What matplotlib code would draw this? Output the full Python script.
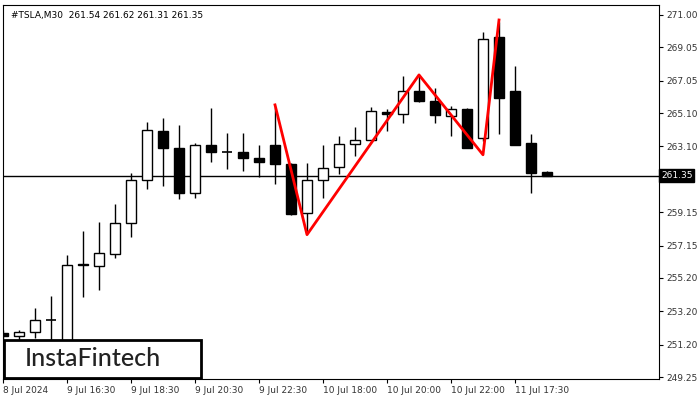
import matplotlib
matplotlib.use("Agg")
import matplotlib.pyplot as plt
from matplotlib.patches import Rectangle

opens  = [251.9,251.7,251.95,252.7,251.3,256.05,255.9,256.65,258.5,261.1,264.05,263.0,260.3,263.2,262.75,262.75,262.4,263.2,262.05,259.1,261.1,261.85,263.25,263.5,265.2,265.05,266.45,265.85,264.95,265.35,263.6,269.7,266.45,263.3,261.54]
highs  = [252.1,252.1,253.4,254.1,256.6,258.0,258.55,259.65,261.5,264.55,264.8,264.4,263.3,265.4,263.9,263.9,263.2,265.5,262.1,262.1,263.2,263.7,264.3,265.5,265.35,267.35,267.4,266.6,265.55,265.4,269.95,270.6,267.95,263.85,261.62]
lows   = [251.5,251.5,251.6,251.0,251.2,254.05,254.5,256.4,257.65,260.55,260.7,259.95,260.0,262.15,261.75,261.6,261.25,260.85,259.0,257.9,260.0,261.45,262.5,263.5,264.0,264.5,265.8,264.5,263.7,263.0,263.4,263.85,263.2,260.3,261.31]
closes = [251.7,251.95,252.7,252.7,256.0,255.95,256.7,258.5,261.1,264.1,263.0,260.3,263.2,262.75,262.75,262.4,262.15,262.05,259.05,261.1,261.8,263.25,263.5,265.25,265.05,266.45,265.85,265.0,265.35,263.0,269.55,266.0,263.2,261.5,261.35]
pattern_idx = [17, 19, 26, 30, 31]
pattern_px = [265.6, 257.8, 267.4, 262.6, 270.7]
ytick_vals = [271.00,269.05,267.05,265.10,263.10,261.15,259.15,257.15,255.20,253.20,251.20,249.25]
xtick_idx = [0,4,8,12,16,20,24,28,32]
xtick_lab = ["8 Jul 2024","9 Jul 16:30","9 Jul 18:30","9 Jul 20:30","9 Jul 22:30","10 Jul 18:00","10 Jul 20:00","10 Jul 22:00","11 Jul 17:30"]
last = 261.35

fig = plt.figure(figsize=(7,4), dpi=100)
ax = fig.add_axes([3/700, 1-379/400, 656/700, 374/400])
ax.set_xlim(0, 41)
ax.set_ylim(249.13, 271.6)
w = 0.6
for i,(o,h,l,c) in enumerate(zip(opens,highs,lows,closes)):
    top, bot = max(o,c), min(o,c)
    ax.vlines(i, l, bot, color='black', lw=1, zorder=2)
    ax.vlines(i, top, h, color='black', lw=1, zorder=2)
    if abs(c-o) < 0.05:
        ax.hlines(o, i-w/2, i+w/2, color='black', lw=1.2, zorder=3)
    else:
        ax.add_patch(Rectangle((i-w/2, bot), w, top-bot, facecolor='white' if c>o else 'black',
                               edgecolor='black', lw=1, zorder=3))
ax.axhline(last, color='black', lw=1, zorder=1)
ax.plot(pattern_idx, pattern_px, color='red', lw=2, zorder=4)

ax.yaxis.tick_right()
ax.set_yticks(ytick_vals)
ax.set_yticklabels(["" if abs(v-261.15) < 0.01 else f"{v:.2f}" for v in ytick_vals], fontsize=6.5, color='#333333')
ax.set_xticks(xtick_idx)
ax.set_xticklabels(xtick_lab, fontsize=6.5, ha='left', color='#333333')
ax.tick_params(axis='both', length=3, width=0.8, pad=2)
ax.text(1.003, (last-249.13)/(271.6-249.13), f"{last:.2f}", transform=ax.transAxes, fontsize=6.5,
        color='white', va='center', ha='left', bbox=dict(facecolor='black', edgecolor='black', pad=1.2))
ax.text(0.012, 0.985, "#TSLA,M30  261.54 261.62 261.31 261.35", transform=ax.transAxes,
        fontsize=6.5, va='top', ha='left', color='black')
# logo
fig.patches.append(Rectangle((4/700, 1-378/400), 197/700, 38/400, transform=fig.transFigure,
                             facecolor='white', edgecolor='black', lw=2, zorder=10))
fig.text(93/700, 1-359/400, "InstaFintech", fontsize=18, ha='center', va='center',
         color='#222222', zorder=11, family='Lato', weight='medium')
fig.savefig("out.png", dpi=100)
